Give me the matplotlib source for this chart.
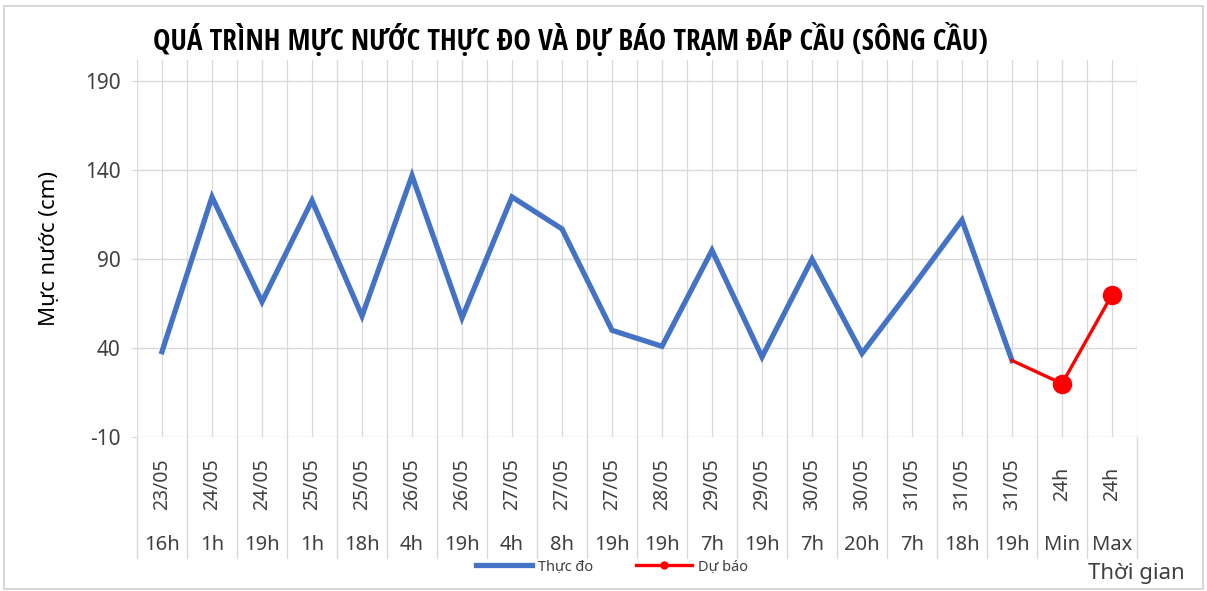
import matplotlib
matplotlib.use("Agg")
import matplotlib.pyplot as plt
from matplotlib import font_manager as fm
from matplotlib.lines import Line2D
from matplotlib.patches import Rectangle

# ── Data ──────────────────────────────────────────────────────────────────────
dates = ["23/05", "24/05", "24/05", "25/05", "25/05", "26/05", "26/05", "27/05",
         "27/05", "27/05", "28/05", "29/05", "29/05", "30/05", "30/05", "31/05",
         "31/05", "31/05", "24h", "24h"]
hours = ["16h", "1h", "19h", "1h", "18h", "4h", "19h", "4h", "8h", "19h",
         "19h", "7h", "19h", "7h", "20h", "7h", "18h", "19h", "Min", "Max"]
observed = [38, 125, 66, 123, 58, 137, 57, 125, 107, 50,
            41, 95, 35, 90, 37, 74, 112, 33]
forecast = [33, 20, 70]          # 31/05 19h, Min, Max
forecast_start = 17
yticks = [-10, 40, 90, 140, 190]

title = "QUÁ TRÌNH MỰC NƯỚC THỰC ĐO VÀ DỰ BÁO TRẠM ĐÁP CẦU (SÔNG CẦU)"

# ── Fonts ─────────────────────────────────────────────────────────────────────
names = {f.name for f in fm.fontManager.ttflist}
base_font = "Noto Sans" if "Noto Sans" in names else "DejaVu Sans"
title_font = base_font
for cand in ["Liberation Sans Narrow", "DejaVu Sans Condensed", "Open Sans Condensed"]:
    if cand in names:
        title_font = cand
        break
plt.rcParams["font.family"] = [base_font, "DejaVu Sans"]

BLUE = "#4472C4"
RED = "#FF0000"
GRID = "#D9D9D9"
TXT = "#404040"

W, H = 1207, 591
fig = plt.figure(figsize=(W / 100, H / 100), dpi=100)
fig.patch.set_facecolor("white")

# plot area in pixel coords
px_l, px_r, px_t, px_b = 137, 1137, 60, 437
ax = fig.add_axes([px_l / W, 1 - px_b / H, (px_r - px_l) / W, (px_b - px_t) / H])

n = len(hours)
x = list(range(n))
ax.set_xlim(-0.5, n - 0.5)
ax.set_ylim(-10, 202)

# gridlines
for yv in yticks:
    ax.axhline(yv, color=GRID, lw=1.0, zorder=0)
for k in range(2 * n + 1):
    ax.axvline(-0.5 + k * 0.5, color=GRID, lw=0.9, zorder=0)

ax.plot(x[:len(observed)], observed, color=BLUE, lw=3.8, zorder=3,
        solid_joinstyle="miter")
fx = x[forecast_start:forecast_start + len(forecast)]
ax.plot(fx, forecast, color=RED, lw=2.4, zorder=4, marker="o", ms=13,
        markevery=[1, 2])

for s in ax.spines.values():
    s.set_visible(False)
ax.set_xticks([])
ax.set_yticks(yticks)
ax.set_yticklabels([str(v) for v in yticks], fontsize=15, color=TXT)
ax.tick_params(axis="y", length=4, color=GRID, pad=8)
ax.set_ylabel("Mực nước (cm)", fontsize=16, color="black", labelpad=18)

# multi-level category axis
tr = ax.get_xaxis_transform()
h_ax = px_b - px_t
def yfrac(py):
    return -(py - px_b) / h_ax

for k in range(n + 1):
    ax.add_line(Line2D([k - 0.5, k - 0.5], [0, yfrac(558)], transform=tr,
                       color=GRID, lw=1.0, clip_on=False))
for i in range(n):
    ax.text(i, yfrac(484), dates[i], transform=tr, rotation=90, ha="center",
            va="center", fontsize=14, color=TXT)
    ax.text(i, yfrac(545), hours[i], transform=tr, ha="center", va="center",
            fontsize=14.5, color=TXT)

# title, axis title, legend
fig.text(570 / W, 1 - 40 / H, title, ha="center", va="center",
         fontsize=21, fontweight="bold", color="black", family=title_font)
fig.text(1136 / W, 1 - 573 / H, "Thời gian", ha="center", va="center",
         fontsize=16, color=TXT)

handles = [Line2D([], [], color=BLUE, lw=3.8),
           Line2D([], [], color=RED, lw=2.4, marker="o", ms=5)]
fig.legend(handles, ["Thực đo", "Dự báo"], loc="center",
           bbox_to_anchor=(612 / W, 1 - 567 / H), ncol=2, frameon=False,
           fontsize=10.5, handlelength=3.8, handletextpad=0.4,
           columnspacing=3.0, labelcolor=TXT)

# chart border
fig.add_artist(Rectangle((4 / W, 2 / H), 1199 / W, 583 / H,
                         transform=fig.transFigure, fill=False,
                         edgecolor="#D0D0D0", lw=1.2))

fig.savefig("out.png", dpi=100)
